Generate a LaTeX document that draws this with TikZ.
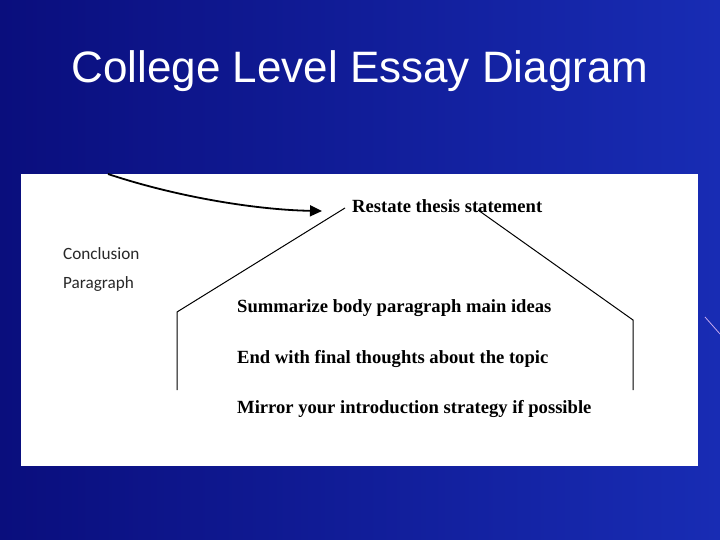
\documentclass[tikz,border=0pt]{standalone}
\usepackage{fontspec}
\setmainfont{Liberation Serif}
\newfontfamily\titlefont{Liberation Sans}
\newfontfamily\calfont{Carlito}
\usetikzlibrary{arrows.meta}
\definecolor{bgleft}{RGB}{10,14,125}
\definecolor{bgmid}{RGB}{8,12,108}
\definecolor{bgright}{RGB}{24,44,180}
\definecolor{caltext}{RGB}{40,40,40}
\definecolor{streak}{RGB}{200,170,240}
\tikzset{
  bodytext/.style={anchor=base west, inner sep=0pt, font=\fontsize{18.6}{22}\selectfont\bfseries, text=black},
  sidetext/.style={anchor=base west, inner sep=0pt, font=\calfont\fontsize{17.2}{20}\selectfont, text=caltext},
  outline/.style={draw=black, line width=1pt},
  pointer/.style={draw=black, line width=1.8pt, -{Triangle[length=12pt,width=11pt]}}
}
\begin{document}
\begin{tikzpicture}[x=1pt,y=-1pt]
\useasboundingbox (0,0) rectangle (720,540);
\shade[left color=bgleft, middle color=bgmid, right color=bgright] (0,0) rectangle (720,540);
\draw[streak, line width=0.8pt] (705,317) -- (720,334);
\node[anchor=base, inner sep=0pt, text=white, font=\titlefont\fontsize{44}{50}\selectfont] (title) at (360,83) {College Level Essay Diagram};
\fill[white] (21,174) rectangle (698,466);
% outline shape
\draw[outline] (177,390) -- (177,312) -- (345,208);
\draw[outline] (478,210) -- (633,320) -- (633,390);
% texts
\node[bodytext] (restate) at (352,212) {Restate thesis statement};
\node[sidetext] (concl) at (63,259) {Conclusion};
\node[sidetext] (para) at (63,288) {Paragraph};
\node[bodytext] (summ) at (237,312) {Summarize body paragraph main ideas};
\node[bodytext] (endw) at (237,363) {End with final thoughts about the topic};
\node[bodytext] (mirror) at (237,413) {Mirror your introduction strategy if possible};
% arrow
\coordinate (arrstart) at (108,174);
\coordinate (arrend) at ([xshift=-30pt,yshift=1pt]restate.base west);
\draw[pointer] (arrstart) .. controls (180,198) and (260,210) .. (arrend);
\end{tikzpicture}
\end{document}
